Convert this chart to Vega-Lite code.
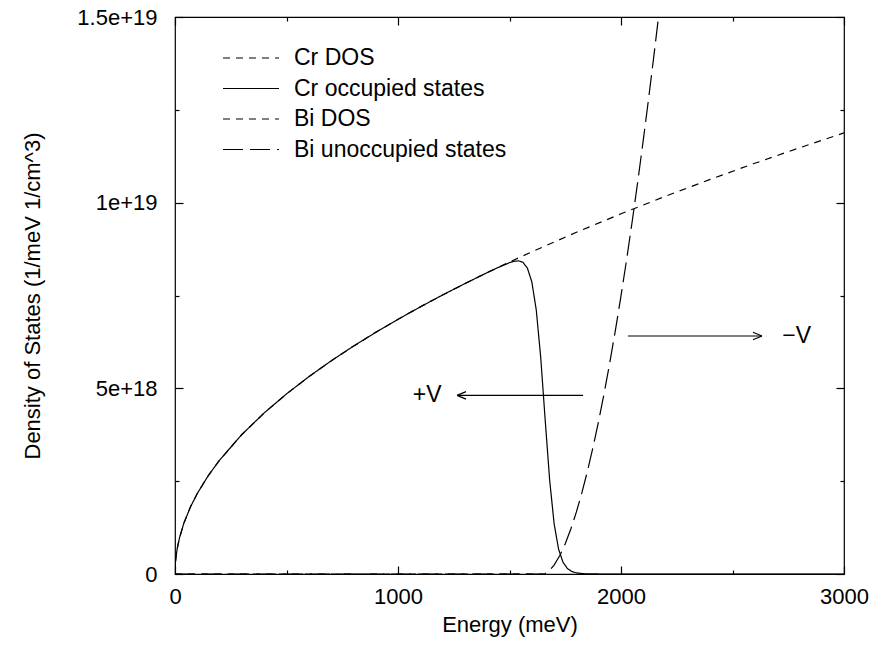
{
  "$schema": "https://vega.github.io/schema/vega-lite/v6.json",
  "width": 669,
  "height": 557,
  "autosize": {"type": "none"},
  "padding": {"left": 175, "top": 17, "right": 31, "bottom": 71},
  "background": "white",
  "config": {
    "view": {"stroke": "black", "strokeWidth": 1.2},
    "font": "Liberation Sans",
    "axis": {
      "grid": false, "domain": false,
      "labelFont": "Liberation Sans", "labelFontSize": 22, "labelColor": "black",
      "titleFont": "Liberation Sans", "titleFontSize": 22, "titleFontWeight": "normal", "titleColor": "black",
      "tickColor": "black", "tickWidth": 1.2
    },
    "text": {"font": "Liberation Sans", "fontSize": 22, "color": "black"}
  },
  "datasets": {
    "curves": [
      {"series": "Cr DOS", "E": 0, "v": 0},
      {"series": "Cr DOS", "E": 2, "v": 3.07e17},
      {"series": "Cr DOS", "E": 5, "v": 4.85e17},
      {"series": "Cr DOS", "E": 10, "v": 6.86e17},
      {"series": "Cr DOS", "E": 20, "v": 9.70e17},
      {"series": "Cr DOS", "E": 40, "v": 1.372e18},
      {"series": "Cr DOS", "E": 70, "v": 1.815e18},
      {"series": "Cr DOS", "E": 100, "v": 2.169e18},
      {"series": "Cr DOS", "E": 150, "v": 2.656e18},
      {"series": "Cr DOS", "E": 200, "v": 3.067e18},
      {"series": "Cr DOS", "E": 300, "v": 3.757e18},
      {"series": "Cr DOS", "E": 400, "v": 4.338e18},
      {"series": "Cr DOS", "E": 500, "v": 4.850e18},
      {"series": "Cr DOS", "E": 600, "v": 5.313e18},
      {"series": "Cr DOS", "E": 700, "v": 5.739e18},
      {"series": "Cr DOS", "E": 800, "v": 6.135e18},
      {"series": "Cr DOS", "E": 900, "v": 6.507e18},
      {"series": "Cr DOS", "E": 1000, "v": 6.859e18},
      {"series": "Cr DOS", "E": 1100, "v": 7.194e18},
      {"series": "Cr DOS", "E": 1200, "v": 7.514e18},
      {"series": "Cr DOS", "E": 1300, "v": 7.820e18},
      {"series": "Cr DOS", "E": 1400, "v": 8.116e18},
      {"series": "Cr DOS", "E": 1500, "v": 8.400e18},
      {"series": "Cr DOS", "E": 1600, "v": 8.676e18},
      {"series": "Cr DOS", "E": 1800, "v": 9.202e18},
      {"series": "Cr DOS", "E": 2000, "v": 9.700e18},
      {"series": "Cr DOS", "E": 2200, "v": 1.0174e19},
      {"series": "Cr DOS", "E": 2400, "v": 1.0626e19},
      {"series": "Cr DOS", "E": 2600, "v": 1.1060e19},
      {"series": "Cr DOS", "E": 2800, "v": 1.1477e19},
      {"series": "Cr DOS", "E": 3000, "v": 1.1880e19},

      {"series": "Cr occupied states", "E": 0, "v": 0},
      {"series": "Cr occupied states", "E": 2, "v": 3.07e17},
      {"series": "Cr occupied states", "E": 5, "v": 4.85e17},
      {"series": "Cr occupied states", "E": 10, "v": 6.86e17},
      {"series": "Cr occupied states", "E": 20, "v": 9.70e17},
      {"series": "Cr occupied states", "E": 40, "v": 1.372e18},
      {"series": "Cr occupied states", "E": 70, "v": 1.815e18},
      {"series": "Cr occupied states", "E": 100, "v": 2.169e18},
      {"series": "Cr occupied states", "E": 150, "v": 2.656e18},
      {"series": "Cr occupied states", "E": 200, "v": 3.067e18},
      {"series": "Cr occupied states", "E": 300, "v": 3.757e18},
      {"series": "Cr occupied states", "E": 400, "v": 4.338e18},
      {"series": "Cr occupied states", "E": 500, "v": 4.850e18},
      {"series": "Cr occupied states", "E": 600, "v": 5.313e18},
      {"series": "Cr occupied states", "E": 700, "v": 5.739e18},
      {"series": "Cr occupied states", "E": 800, "v": 6.135e18},
      {"series": "Cr occupied states", "E": 900, "v": 6.507e18},
      {"series": "Cr occupied states", "E": 1000, "v": 6.859e18},
      {"series": "Cr occupied states", "E": 1100, "v": 7.194e18},
      {"series": "Cr occupied states", "E": 1200, "v": 7.514e18},
      {"series": "Cr occupied states", "E": 1300, "v": 7.820e18},
      {"series": "Cr occupied states", "E": 1400, "v": 8.116e18},
      {"series": "Cr occupied states", "E": 1450, "v": 8.257e18},
      {"series": "Cr occupied states", "E": 1500, "v": 8.384e18},
      {"series": "Cr occupied states", "E": 1520, "v": 8.421e18},
      {"series": "Cr occupied states", "E": 1540, "v": 8.434e18},
      {"series": "Cr occupied states", "E": 1560, "v": 8.394e18},
      {"series": "Cr occupied states", "E": 1580, "v": 8.242e18},
      {"series": "Cr occupied states", "E": 1600, "v": 7.871e18},
      {"series": "Cr occupied states", "E": 1620, "v": 7.111e18},
      {"series": "Cr occupied states", "E": 1640, "v": 5.830e18},
      {"series": "Cr occupied states", "E": 1660, "v": 4.153e18},
      {"series": "Cr occupied states", "E": 1680, "v": 2.534e18},
      {"series": "Cr occupied states", "E": 1700, "v": 1.358e18},
      {"series": "Cr occupied states", "E": 1720, "v": 6.70e17},
      {"series": "Cr occupied states", "E": 1740, "v": 3.16e17},
      {"series": "Cr occupied states", "E": 1760, "v": 1.45e17},
      {"series": "Cr occupied states", "E": 1780, "v": 6.6e16},
      {"series": "Cr occupied states", "E": 1800, "v": 3.0e16},
      {"series": "Cr occupied states", "E": 1825, "v": 1.1e16},
      {"series": "Cr occupied states", "E": 1850, "v": 4e15},
      {"series": "Cr occupied states", "E": 1900, "v": 6e14},
      {"series": "Cr occupied states", "E": 2000, "v": 0},
      {"series": "Cr occupied states", "E": 3000, "v": 0},

      {"series": "Bi DOS", "E": 0, "v": 0},
      {"series": "Bi DOS", "E": 1650, "v": 0},

      {"series": "Bi unoccupied states", "E": 0, "v": 0},
      {"series": "Bi unoccupied states", "E": 1650, "v": 0},
      {"series": "Bi unoccupied states", "E": 1660, "v": 1.4e16},
      {"series": "Bi unoccupied states", "E": 1675, "v": 7.0e16},
      {"series": "Bi unoccupied states", "E": 1700, "v": 2.39e17},
      {"series": "Bi unoccupied states", "E": 1725, "v": 4.90e17},
      {"series": "Bi unoccupied states", "E": 1750, "v": 8.16e17},
      {"series": "Bi unoccupied states", "E": 1775, "v": 1.211e18},
      {"series": "Bi unoccupied states", "E": 1800, "v": 1.672e18},
      {"series": "Bi unoccupied states", "E": 1825, "v": 2.196e18},
      {"series": "Bi unoccupied states", "E": 1850, "v": 2.781e18},
      {"series": "Bi unoccupied states", "E": 1875, "v": 3.426e18},
      {"series": "Bi unoccupied states", "E": 1900, "v": 4.128e18},
      {"series": "Bi unoccupied states", "E": 1925, "v": 4.887e18},
      {"series": "Bi unoccupied states", "E": 1950, "v": 5.701e18},
      {"series": "Bi unoccupied states", "E": 1975, "v": 6.568e18},
      {"series": "Bi unoccupied states", "E": 2000, "v": 7.489e18},
      {"series": "Bi unoccupied states", "E": 2025, "v": 8.462e18},
      {"series": "Bi unoccupied states", "E": 2050, "v": 9.487e18},
      {"series": "Bi unoccupied states", "E": 2075, "v": 1.056e19},
      {"series": "Bi unoccupied states", "E": 2100, "v": 1.169e19},
      {"series": "Bi unoccupied states", "E": 2125, "v": 1.286e19},
      {"series": "Bi unoccupied states", "E": 2150, "v": 1.408e19},
      {"series": "Bi unoccupied states", "E": 2175, "v": 1.535e19}
    ],
    "shafts": [
      {"x1": 1830, "x2": 1265, "y1": 4.81e18, "y2": 4.81e18},
      {"x1": 2031, "x2": 2632, "y1": 6.41e18, "y2": 6.41e18}
    ],
    "heads": [
      {"x1": 1265, "x2": 1305, "y1": 4.81e18, "y2": 4.91e18},
      {"x1": 1265, "x2": 1305, "y1": 4.81e18, "y2": 4.71e18},
      {"x1": 2632, "x2": 2592, "y1": 6.41e18, "y2": 6.51e18},
      {"x1": 2632, "x2": 2592, "y1": 6.41e18, "y2": 6.31e18}
    ],
    "labels": [
      {"label": "+V", "E": 1066, "v": 4.81e18},
      {"label": "−V", "E": 2723, "v": 6.41e18}
    ]
  },
  "layer": [
    {
      "data": {"name": "curves"},
      "mark": {"type": "line", "clip": true, "color": "black", "strokeWidth": 1.2},
      "encoding": {
        "x": {
          "field": "E", "type": "quantitative",
          "scale": {"domain": [0, 3000], "nice": false, "zero": false},
          "axis": {"orient": "bottom", "values": [0, 1000, 2000, 3000], "format": "d", "tickSize": -8, "labelPadding": 20, "labelFlush": false,
                   "title": "Energy (meV)", "titleX": 334.5, "titleY": 50, "titleBaseline": "middle", "titleAlign": "center"}
        },
        "y": {
          "field": "v", "type": "quantitative",
          "scale": {"domain": [0, 1.5e19], "nice": false},
          "axis": {"orient": "left", "values": [0, 5e18, 1e19, 1.5e19], "tickSize": -8, "labelPadding": 26, "labelFlush": false,
                   "labelExpr": "datum.value == 0 ? '0' : format(datum.value, '~e')",
                   "title": "Density of States (1/meV 1/cm^3)", "titleX": -143, "titleY": 278.5, "titleAngle": -90, "titleBaseline": "middle", "titleAlign": "center"}
        },
        "strokeDash": {
          "field": "series", "type": "nominal",
          "scale": {"domain": ["Cr DOS", "Cr occupied states", "Bi DOS", "Bi unoccupied states"],
                    "range": [[7, 6], [1, 0], [7, 6], [20, 7]]},
          "legend": {"orient": "none", "legendX": 47, "legendY": 30, "title": null,
                     "symbolType": "stroke", "symbolSize": 3136, "symbolStrokeColor": "black", "symbolStrokeWidth": 1.2,
                     "labelFont": "Liberation Sans", "labelFontSize": 23, "labelColor": "black", "labelOffset": 14,
                     "clipHeight": 22, "rowPadding": 7.5, "padding": 0, "labelLimit": 400}
        }
      }
    },
    {
      "data": {"name": "shafts"},
      "mark": {"type": "rule", "color": "black", "strokeWidth": 1.2},
      "encoding": {
        "x": {"field": "x1", "type": "quantitative", "scale": {"domain": [0, 3000], "nice": false, "zero": false},
              "axis": {"orient": "top", "values": [0, 1000, 2000, 3000], "tickSize": -8, "labels": false, "title": null}},
        "x2": {"field": "x2"},
        "y": {"field": "y1", "type": "quantitative", "scale": {"domain": [0, 1.5e19], "nice": false},
              "axis": {"orient": "right", "values": [0, 5e18, 1e19, 1.5e19], "tickSize": -8, "labels": false, "title": null}},
        "y2": {"field": "y2"}
      }
    },
    {
      "data": {"name": "heads"},
      "mark": {"type": "rule", "color": "black", "strokeWidth": 1.2},
      "encoding": {
        "x": {"field": "x1", "type": "quantitative", "scale": {"domain": [0, 3000], "nice": false, "zero": false},
              "axis": {"orient": "bottom", "values": [500, 1500, 2500], "tickSize": -4, "labels": false, "title": null}},
        "x2": {"field": "x2"},
        "y": {"field": "y1", "type": "quantitative", "scale": {"domain": [0, 1.5e19], "nice": false},
              "axis": {"orient": "left", "values": [2.5e18, 7.5e18, 1.25e19], "tickSize": -4, "labels": false, "title": null}},
        "y2": {"field": "y2"}
      }
    },
    {
      "data": {"name": "labels"},
      "mark": {"type": "text", "align": "left", "baseline": "middle", "font": "Liberation Sans", "fontSize": 23, "color": "black"},
      "encoding": {
        "x": {"field": "E", "type": "quantitative", "scale": {"domain": [0, 3000], "nice": false, "zero": false},
              "axis": {"orient": "top", "values": [500, 1500, 2500], "tickSize": -4, "labels": false, "title": null}},
        "y": {"field": "v", "type": "quantitative", "scale": {"domain": [0, 1.5e19], "nice": false},
              "axis": {"orient": "right", "values": [2.5e18, 7.5e18, 1.25e19], "tickSize": -4, "labels": false, "title": null}},
        "text": {"field": "label"}
      }
    }
  ]
}
